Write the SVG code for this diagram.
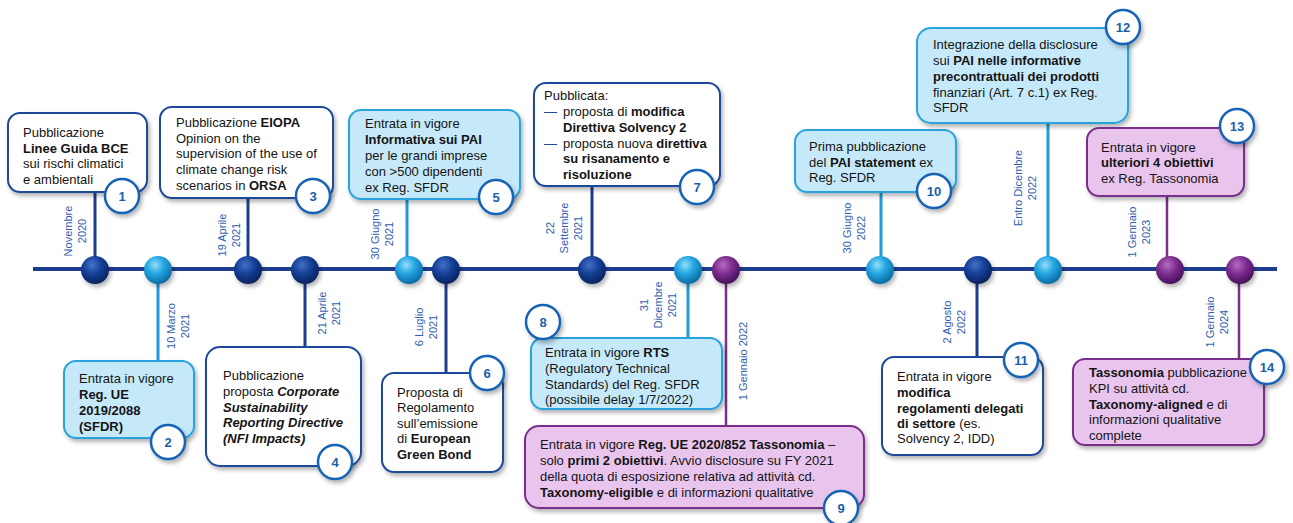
<svg xmlns="http://www.w3.org/2000/svg" width="1293" height="523" viewBox="0 0 1293 523">
<style>
text{font-family:"Liberation Sans",Arial,sans-serif;}
.t{font-size:13px;fill:#141414;}
.b{font-weight:bold;}
.bi{font-weight:bold;font-style:italic;}
.d{font-size:11px;fill:#2f5eae;text-anchor:middle;}
.n{font-size:13px;font-weight:bold;fill:#1a5fad;text-anchor:middle;}
.bw{fill:#ffffff;stroke:#1d4a9a;stroke-width:2;filter:url(#sh);}
.bl{fill:#c6e9fa;stroke:#29a3dd;stroke-width:2;filter:url(#sh);}
.bp{fill:#e9c5ee;stroke:#7a2f8c;stroke-width:2;filter:url(#sh);}
.c{fill:#ffffff;stroke:#1862b5;stroke-width:2.5;filter:url(#sh);}
.sd{stroke:#1c3d8f;stroke-width:3;}
.sl{stroke:#1e9ad6;stroke-width:3;}
.sp{stroke:#7a2f8c;stroke-width:2.5;}
.dash{fill:#1d4a9a;}
</style>
<defs>
<filter id="sh" x="-20%" y="-20%" width="140%" height="150%">
<feDropShadow dx="2" dy="3" stdDeviation="2" flood-color="#000" flood-opacity="0.3"/>
</filter>
<radialGradient id="gd" cx="40%" cy="32%" r="68%">
<stop offset="0" stop-color="#4572c8"/><stop offset="0.5" stop-color="#143f96"/><stop offset="1" stop-color="#0a235e"/>
</radialGradient>
<radialGradient id="gl" cx="40%" cy="32%" r="68%">
<stop offset="0" stop-color="#96def9"/><stop offset="0.45" stop-color="#26a8e3"/><stop offset="1" stop-color="#0c6ca6"/>
</radialGradient>
<radialGradient id="gp" cx="40%" cy="32%" r="68%">
<stop offset="0" stop-color="#b66bc3"/><stop offset="0.5" stop-color="#7b2d8e"/><stop offset="1" stop-color="#47115a"/>
</radialGradient>
</defs>
<rect width="1293" height="523" fill="#ffffff"/>

<g id="connectors">
<line x1="33" y1="269" x2="1277" y2="269" stroke="#1c3d8f" stroke-width="4"/>
<line class="sd" x1="95" y1="192" x2="95" y2="270"/>
<line class="sl" x1="158" y1="270" x2="158" y2="361"/>
<line class="sd" x1="248" y1="198" x2="248" y2="270"/>
<line class="sd" x1="305" y1="270" x2="305" y2="347"/>
<line class="sl" x1="407" y1="199" x2="407" y2="270"/>
<line class="sd" x1="446" y1="270" x2="446" y2="373"/>
<line class="sd" x1="592" y1="186" x2="592" y2="270"/>
<line class="sl" x1="688" y1="270" x2="688" y2="338"/>
<line class="sp" x1="726" y1="270" x2="726" y2="426"/>
<line class="sl" x1="881" y1="192" x2="881" y2="270"/>
<line class="sd" x1="977" y1="270" x2="977" y2="357"/>
<line class="sl" x1="1048" y1="123" x2="1048" y2="270"/>
<line class="sp" x1="1167" y1="196" x2="1167" y2="270"/>
<line class="sp" x1="1239" y1="270" x2="1239" y2="359"/>
</g>

<g id="node-1">
<rect class="bw" x="8" y="113" width="139" height="79" rx="12"/>
<text class="t" x="23" y="137">Pubblicazione</text>
<text class="t b" x="23" y="153">Linee Guida BCE</text>
<text class="t" x="23" y="168">sui rischi climatici</text>
<text class="t" x="23" y="184">e ambientali</text>
<circle class="c" cx="122" cy="196" r="17"/>
<text class="n" x="122" y="201">1</text>
<g transform="translate(68,231) rotate(-90)"><text class="d" y="4">Novembre</text><text class="d" y="18">2020</text></g>
<circle cx="95" cy="270" r="14" fill="url(#gd)" filter="url(#sh)"/>
</g>

<g id="node-2">
<rect class="bl" x="64" y="361" width="130" height="77" rx="12"/>
<text class="t" x="79" y="383">Entrata in vigore</text>
<text class="t b" x="79" y="399">Reg. UE</text>
<text class="t b" x="79" y="415">2019/2088</text>
<text class="t b" x="79" y="431">(SFDR)</text>
<circle class="c" cx="168" cy="442" r="17"/>
<text class="n" x="168" y="447">2</text>
<g transform="translate(171,326) rotate(-90)"><text class="d" y="4">10 Marzo</text><text class="d" y="18">2021</text></g>
<circle cx="158" cy="270" r="14" fill="url(#gl)" filter="url(#sh)"/>
</g>

<g id="node-3">
<rect class="bw" x="160" y="107" width="173" height="91" rx="12"/>
<text class="t" x="176" y="127">Pubblicazione <tspan class="b">EIOPA</tspan></text>
<text class="t" x="176" y="143">Opinion on the</text>
<text class="t" x="176" y="158">supervision of the use of</text>
<text class="t" x="176" y="174">climate change risk</text>
<text class="t" x="176" y="190">scenarios in <tspan class="b">ORSA</tspan></text>
<circle class="c" cx="313" cy="196" r="17"/>
<text class="n" x="313" y="201">3</text>
<g transform="translate(222,235) rotate(-90)"><text class="d" y="4">19 Aprile</text><text class="d" y="18">2021</text></g>
<circle cx="248" cy="270" r="14" fill="url(#gd)" filter="url(#sh)"/>
</g>

<g id="node-4">
<rect class="bw" x="206" y="347" width="155" height="119" rx="14"/>
<text class="t" x="223" y="380">Pubblicazione</text>
<text class="t" x="223" y="396">proposta <tspan class="bi">Corporate</tspan></text>
<text class="t bi" x="223" y="412">Sustainability</text>
<text class="t bi" x="223" y="427">Reporting Directive</text>
<text class="t bi" x="223" y="443">(NFI Impacts)</text>
<circle class="c" cx="335" cy="462" r="17"/>
<text class="n" x="335" y="467">4</text>
<g transform="translate(322,313) rotate(-90)"><text class="d" y="4">21 Aprile</text><text class="d" y="18">2021</text></g>
<circle cx="305" cy="270" r="14" fill="url(#gd)" filter="url(#sh)"/>
</g>

<g id="node-5">
<rect class="bl" x="349" y="110" width="171" height="89" rx="12"/>
<text class="t" x="365" y="128">Entrata in vigore</text>
<text class="t b" x="365" y="144">Informativa sui PAI</text>
<text class="t" x="365" y="160">per le grandi imprese</text>
<text class="t" x="365" y="176">con &gt;500 dipendenti</text>
<text class="t" x="365" y="192">ex Reg. SFDR</text>
<circle class="c" cx="496" cy="197" r="17"/>
<text class="n" x="496" y="202">5</text>
<g transform="translate(375,234) rotate(-90)"><text class="d" y="4">30 Giugno</text><text class="d" y="18">2021</text></g>
<circle cx="409" cy="270" r="14" fill="url(#gl)" filter="url(#sh)"/>
</g>

<g id="node-6">
<rect class="bw" x="382" y="373" width="121" height="99" rx="12"/>
<text class="t" x="397" y="397">Proposta di</text>
<text class="t" x="397" y="412">Regolamento</text>
<text class="t" x="397" y="428">sull’emissione</text>
<text class="t" x="397" y="443">di <tspan class="b">European</tspan></text>
<text class="t b" x="397" y="459">Green Bond</text>
<circle class="c" cx="487" cy="373" r="17"/>
<text class="n" x="487" y="378">6</text>
<g transform="translate(419,327) rotate(-90)"><text class="d" y="4">6 Luglio</text><text class="d" y="18">2021</text></g>
<circle cx="446" cy="270" r="14" fill="url(#gd)" filter="url(#sh)"/>
</g>

<g id="node-7">
<rect class="bw" x="534" y="83" width="186" height="103" rx="12"/>
<text class="t" x="544" y="100">Pubblicata:</text>
<text class="t dash" x="544" y="116">—</text>
<text class="t" x="563" y="116">proposta di <tspan class="b">modifica</tspan></text>
<text class="t b" x="563" y="132">Direttiva Solvency 2</text>
<text class="t dash" x="544" y="148">—</text>
<text class="t" x="563" y="148">proposta nuova <tspan class="b">direttiva</tspan></text>
<text class="t b" x="563" y="163">su risanamento e</text>
<text class="t b" x="563" y="179">risoluzione</text>
<circle class="c" cx="697" cy="187" r="17"/>
<text class="n" x="697" y="192">7</text>
<g transform="translate(550,228) rotate(-90)"><text class="d" y="4">22</text><text class="d" y="18">Settembre</text><text class="d" y="32">2021</text></g>
<circle cx="592" cy="270" r="14" fill="url(#gd)" filter="url(#sh)"/>
</g>

<g id="node-8">
<rect class="bl" x="531" y="338" width="191" height="71" rx="12"/>
<text class="t" x="545" y="357">Entrata in vigore <tspan class="b">RTS</tspan></text>
<text class="t" x="545" y="373">(Regulatory Technical</text>
<text class="t" x="545" y="389">Standards) del Reg. SFDR</text>
<text class="t" x="545" y="404">(possibile delay 1/7/2022)</text>
<circle class="c" cx="543" cy="322" r="17"/>
<text class="n" x="543" y="327">8</text>
<g transform="translate(644,305) rotate(-90)"><text class="d" y="4">31</text><text class="d" y="18">Dicembre</text><text class="d" y="32">2021</text></g>
<circle cx="688" cy="270" r="14" fill="url(#gl)" filter="url(#sh)"/>
</g>

<g id="node-9">
<rect class="bp" x="525" y="426" width="339" height="82" rx="14"/>
<text class="t" x="540" y="449">Entrata in vigore <tspan class="b">Reg. UE 2020/852 Tassonomia</tspan> –</text>
<text class="t" x="540" y="465">solo <tspan class="b">primi 2 obiettivi</tspan>. Avvio disclosure su FY 2021</text>
<text class="t" x="540" y="481">della quota di esposizione relativa ad attività cd.</text>
<text class="t" x="540" y="497"><tspan class="b">Taxonomy-eligible</tspan> e di informazioni qualitative</text>
<circle class="c" cx="841" cy="508" r="17"/>
<text class="n" x="841" y="513">9</text>
<g transform="translate(743,361) rotate(-90)"><text class="d" y="4">1 Gennaio 2022</text></g>
<circle cx="726" cy="270" r="14" fill="url(#gp)" filter="url(#sh)"/>
</g>

<g id="node-10">
<rect class="bl" x="795" y="130" width="161" height="62" rx="12"/>
<text class="t" x="809" y="151">Prima pubblicazione</text>
<text class="t" x="809" y="167">del <tspan class="b">PAI statement</tspan> ex</text>
<text class="t" x="809" y="182">Reg. SFDR</text>
<circle class="c" cx="934" cy="191" r="17"/>
<text class="n" x="934" y="196">10</text>
<g transform="translate(847,228) rotate(-90)"><text class="d" y="4">30 Giugno</text><text class="d" y="18">2022</text></g>
<circle cx="880" cy="270" r="14" fill="url(#gl)" filter="url(#sh)"/>
</g>

<g id="node-11">
<rect class="bw" x="882" y="357" width="161" height="98" rx="12"/>
<text class="t" x="897" y="381">Entrata in vigore</text>
<text class="t b" x="897" y="397">modifica</text>
<text class="t b" x="897" y="413">regolamenti delegati</text>
<text class="t" x="897" y="428"><tspan class="b">di settore</tspan> (es.</text>
<text class="t" x="897" y="443">Solvency 2, IDD)</text>
<circle class="c" cx="1021" cy="360" r="17"/>
<text class="n" x="1021" y="365">11</text>
<g transform="translate(947,322) rotate(-90)"><text class="d" y="4">2 Agosto</text><text class="d" y="18">2022</text></g>
<circle cx="978" cy="270" r="14" fill="url(#gd)" filter="url(#sh)"/>
</g>

<g id="node-12">
<rect class="bl" x="917" y="28" width="211" height="95" rx="14"/>
<text class="t" x="933" y="49">Integrazione della disclosure</text>
<text class="t" x="933" y="65">sui <tspan class="b">PAI nelle informative</tspan></text>
<text class="t b" x="933" y="81">precontrattuali dei prodotti</text>
<text class="t" x="933" y="97">finanziari (Art. 7 c.1) ex Reg.</text>
<text class="t" x="933" y="112">SFDR</text>
<circle class="c" cx="1123" cy="27" r="17"/>
<text class="n" x="1123" y="32">12</text>
<g transform="translate(1018,188) rotate(-90)"><text class="d" y="4">Entro Dicembre</text><text class="d" y="18">2022</text></g>
<circle cx="1048" cy="270" r="14" fill="url(#gl)" filter="url(#sh)"/>
</g>

<g id="node-13">
<rect class="bp" x="1087" y="128" width="157" height="68" rx="12"/>
<text class="t" x="1101" y="152">Entrata in vigore</text>
<text class="t b" x="1101" y="167">ulteriori 4 obiettivi</text>
<text class="t" x="1101" y="183">ex Reg. Tassonomia</text>
<circle class="c" cx="1237" cy="126" r="17"/>
<text class="n" x="1237" y="131">13</text>
<g transform="translate(1132,232) rotate(-90)"><text class="d" y="4">1 Gennaio</text><text class="d" y="18">2023</text></g>
<circle cx="1170" cy="270" r="14" fill="url(#gp)" filter="url(#sh)"/>
</g>

<g id="node-14">
<rect class="bp" x="1073" y="359" width="191" height="86" rx="12"/>
<text class="t" x="1089" y="377"><tspan class="b">Tassonomia</tspan> pubblicazione</text>
<text class="t" x="1089" y="393">KPI su attività cd.</text>
<text class="t" x="1089" y="409"><tspan class="b">Taxonomy-aligned</tspan> e di</text>
<text class="t" x="1089" y="424">informazioni qualitative</text>
<text class="t" x="1089" y="440">complete</text>
<circle class="c" cx="1267" cy="367" r="17"/>
<text class="n" x="1267" y="372">14</text>
<g transform="translate(1210,322) rotate(-90)"><text class="d" y="4">1 Gennaio</text><text class="d" y="18">2024</text></g>
<circle cx="1240" cy="270" r="14" fill="url(#gp)" filter="url(#sh)"/>
</g>
</svg>
